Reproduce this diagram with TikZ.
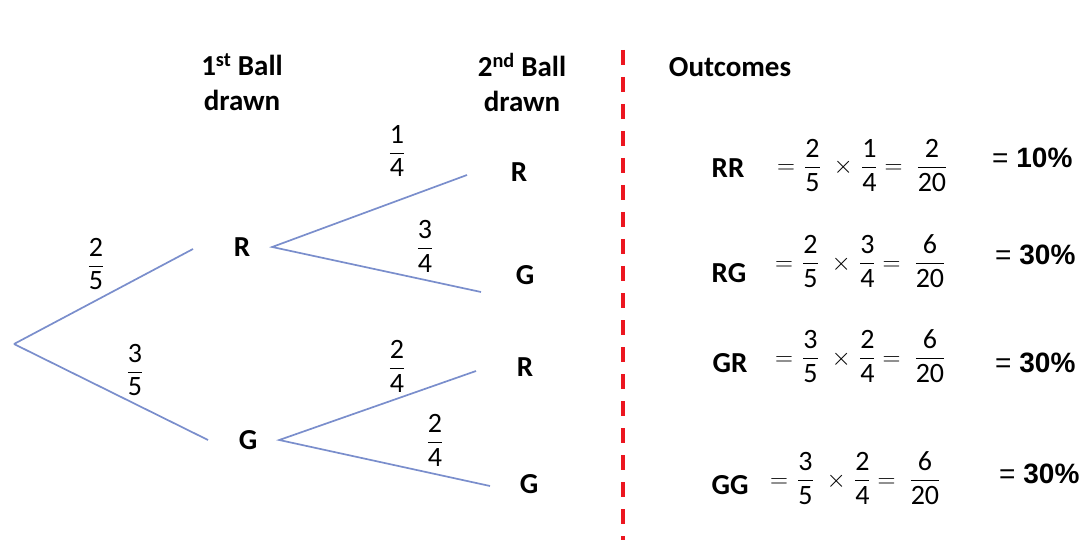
\documentclass[tikz,border=0pt]{standalone}
\usepackage{amsmath}
\usepackage{fontspec}
\setmainfont{Carlito}
\newfontfamily\arialfont{Liberation Sans}
\usetikzlibrary{positioning}
\definecolor{branchblue}{RGB}{122,142,204}
\definecolor{dashred}{RGB}{236,22,32}
\newcommand{\fr}[2]{$\genfrac{}{}{1.1pt}{0}{\hbox{#1}}{\hbox{#2}}$}
\newcommand{\outcome}[6]{$=$\hspace{9pt}\fr{#1}{#2}\hspace{13pt}$\times$\hspace{8pt}\fr{#3}{#4}\hspace{7pt}$=$\hspace{14pt}\fr{#5}{#6}}
\tikzset{ball/.style={font=\bfseries\fontsize{29}{35}\selectfont,inner sep=0pt,align=center},
  fork/.style={ball,outer xsep=22pt},
  prob/.style={font=\fontsize{28}{34}\selectfont,inner sep=0pt},
  eqn/.style={font=\fontsize{28}{34}\selectfont,inner sep=0pt,anchor=base west},
  pct/.style={font=\arialfont\fontsize{28}{34}\selectfont,inner sep=0pt,anchor=base west},
  branch/.style={draw=branchblue,line width=1.7pt},
  divider/.style={draw=dashred,line width=3.5pt,dash pattern=on 15pt off 12pt}}
\begin{document}
\begin{tikzpicture}[x=1pt,y=-1pt,line width=.45pt]
\useasboundingbox (0,0) rectangle (1090,540);
\coordinate (o) at (14,344); \coordinate (tr) at (193,249); \coordinate (tg) at (208,440);
\coordinate (trr) at (467,175); \coordinate (trg) at (481,292);
\coordinate (tgr) at (476,371); \coordinate (tgg) at (490,486);
\coordinate (dtop) at (623,50); \coordinate (dbot) at (623,540);
\node[fork] (r) at (242,247) {R}; \node[fork] (g) at (248,440) {G};
\node[ball] (rr) at (519,172) {R}; \node[ball] (rg) at (525,275) {G};
\node[ball] (gr) at (525,367) {R}; \node[ball] (gg) at (529,484) {G};
\draw[branch] (o)--(tr); \draw[branch] (o)--(tg);
\draw[branch] (trr)--(r.east)--(trg);
\draw[branch] (tgr)--(g.east)--(tgg);
\draw[divider] (dtop)--(dbot);
\foreach \x/\y/\n/\d [count=\i] in {96/264/2/5,135/370/3/5,397/151/1/4,425/246/3/4,397/366/2/4,435/440/2/4}
  {\node[prob] (p\i) at (\x,\y) {\fr{\n}{\d}};}
\node[ball] (first) at (242,82) {1\textsuperscript{st} Ball\\drawn};
\node[ball] (second) at (522,82) {2\textsuperscript{nd} Ball\\drawn};
\node[ball] (outc) at (730,67) {Outcomes};
\node[ball] (lrr) at (728,168) {RR}; \node[ball] (lrg) at (729,273) {RG};
\node[ball] (lgr) at (730,363) {GR}; \node[ball] (lgg) at (730,485) {GG};
\node[eqn] (err) at (777,174) {\outcome25142{20}};
\node[eqn] (erg) at (775,270) {\outcome25346{20}};
\node[eqn] (egr) at (775,365) {\outcome35246{20}};
\node[eqn] (egg) at (770,487) {\outcome35246{20}};
\node[pct] (prr) at (992,168) {= \textbf{10\%}}; \node[pct] (prg) at (995,265) {= \textbf{30\%}};
\node[pct] (pgr) at (995,372) {= \textbf{30\%}}; \node[pct] (pgg) at (999,483) {= \textbf{30\%}};
\end{tikzpicture}
\end{document}
